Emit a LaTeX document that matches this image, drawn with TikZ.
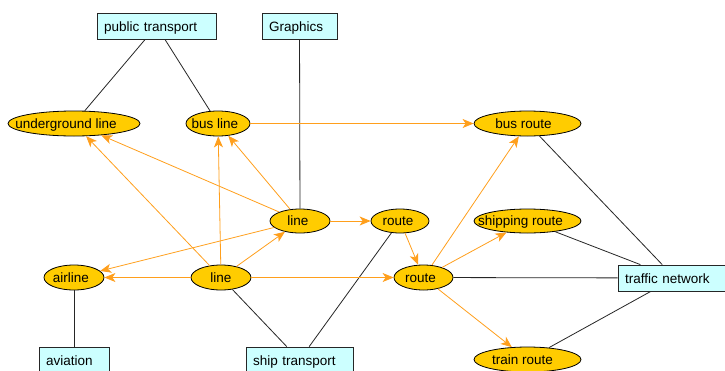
\documentclass[tikz,border=0pt]{standalone}
\usepackage{fontspec}
\setmainfont{Liberation Sans}
\usetikzlibrary{shapes.geometric,arrows.meta}
\definecolor{boxfill}{HTML}{CCFFFF}
\definecolor{ellfill}{HTML}{FFCC00}
\definecolor{arr}{HTML}{FF9F1C}
\newcommand\mk[2]{\makebox[0pt]{\kern-#1pt\kern-#1pt #2}}
\tikzset{
  box/.style={draw=black!85, fill=boxfill, rectangle, line width=0.8pt, minimum height=26pt, inner xsep=7pt, inner ysep=0pt, align=left, text height=11pt, text depth=0pt, font=\fontsize{13.5}{16}\selectfont},
  ell/.style={draw=black, fill=ellfill, ellipse, line width=0.8pt, inner sep=0pt, minimum height=25pt, text height=9.5pt, text depth=0pt, font=\fontsize{13.5}{16}\selectfont},
  plain/.style={draw=black!85, line width=0.8pt},
  oarr/.style={draw=arr, line width=0.8pt, -{Stealth[length=11pt,width=9pt,inset=3pt]}}
}
\begin{document}
\begin{tikzpicture}[x=1pt,y=-1pt]
\useasboundingbox (0,0) rectangle (725,370);
\clip (0,0) rectangle (725,370);
\fill[white] (0,0) rectangle (725,370);
% boxes
\node[box, text width=105pt] (pt) at (156.5,26) {public transport};
\node[box, text width=61pt] (gr) at (299.5,26) {Graphics};
\node[box, text width=56pt] (av) at (74,360) {aviation};
\node[box, text width=93pt] (st) at (299.5,360) {ship transport};
\node[box, text width=100pt] (tn) at (675,278) {traffic network};
% ellipses
\node[ell, minimum width=132pt] (ug) at (74,123.5) {\mk{8}{underground line}};
\node[ell, minimum width=64pt] (bl) at (218,123.5) {\mk{3}{bus line}};
\node[ell, minimum width=107pt] (br) at (527.5,123.5) {\mk{4}{bus route}};
\node[ell, minimum width=60pt, minimum height=24pt] (l1) at (300,221) {\mk{2}{line}};
\node[ell, minimum width=58pt, minimum height=24pt] (r1) at (400,221) {\mk{2}{route}};
\node[ell, minimum width=107pt, minimum height=24pt] (sr) at (527.5,221) {\mk{7}{shipping route}};
\node[ell, minimum width=60pt] (al) at (74,277.5) {\mk{3}{airline}};
\node[ell, minimum width=60pt] (l2) at (221,277.5) {\mk{0}{line}};
\node[ell, minimum width=59pt] (r2) at (423.5,277.5) {\mk{3}{route}};
\node[ell, minimum width=107pt] (tr) at (527.5,359.5) {\mk{5}{train route}};
% black edges
\draw[plain] (pt) -- (ug);
\draw[plain] (pt) -- (bl);
\draw[plain] (gr) -- (l1);
\draw[plain] (al) -- (av);
\draw[plain] (l2) -- (st);
\draw[plain] (r1) -- (st);
\draw[plain] (br) -- (tn);
\draw[plain] (sr) -- (tn);
\draw[plain] (r2) -- (tn);
\draw[plain] (tr) -- (tn);
% orange arrows
\draw[oarr] (bl) -- (br);
\draw[oarr] (l1) -- (ug);
\draw[oarr] (l2) -- (ug);
\draw[oarr] (l2) -- (bl);
\draw[oarr] (l1) -- (bl);
\draw[oarr] (l1) -- (al);
\draw[oarr] (l2) -- (al);
\draw[oarr] (l2) -- (l1);
\draw[oarr] (l2) -- (r2);
\draw[oarr] (l1) -- (r1);
\draw[oarr] (r1) -- (r2);
\draw[oarr] (r2) -- (br);
\draw[oarr] (r2) -- (sr);
\draw[oarr] (r2) -- (tr);
\end{tikzpicture}
\end{document}
